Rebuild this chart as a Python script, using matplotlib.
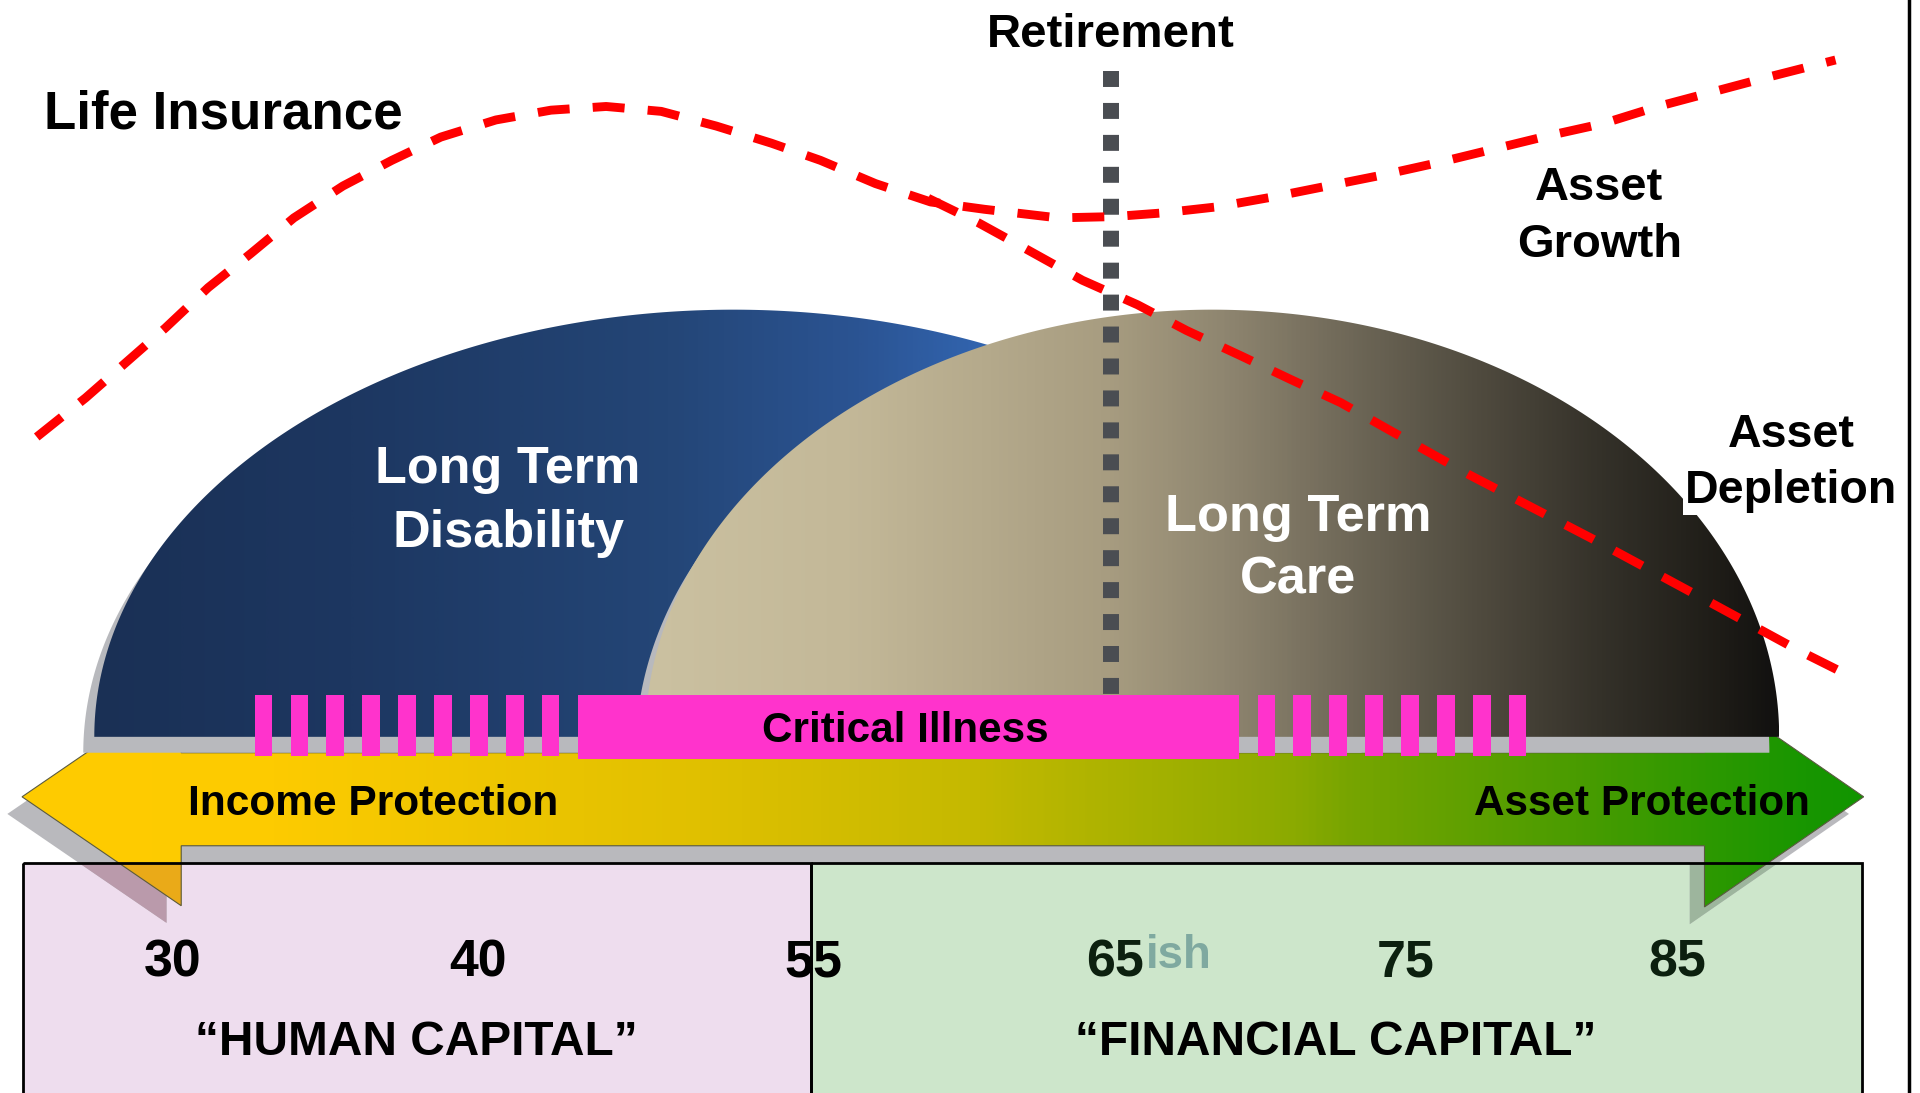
import numpy as np
import matplotlib
matplotlib.use("Agg")
import matplotlib.pyplot as plt
from matplotlib.patches import Polygon, Rectangle
from matplotlib.colors import LinearSegmentedColormap

# ---- data (picture pixels of a 1568 x 893 view) ----
age_labels = ["30", "40", "55", "65", "75", "85"]
capital_labels = ["\u201cHUMAN CAPITAL\u201d", "\u201cFINANCIAL CAPITAL\u201d"]

# life insurance need, running on into the asset growth curve
growth_x = [30, 70, 135, 170, 205, 240, 280, 320, 360, 405, 450, 495, 540, 585, 630, 670, 715, 760,
            804, 864, 909, 949, 994, 1039, 1084, 1129, 1174, 1219, 1264, 1309, 1354, 1399, 1444, 1499]
growth_y = [357, 325, 268, 235, 207, 178, 152, 131, 112, 98, 90, 87, 91, 103, 117, 131, 150, 165,
            171, 178, 177, 174, 169, 161, 152, 143, 133, 122, 111, 101, 87, 75, 63, 49]
# asset depletion branch
depl_x = [758, 799, 839, 884, 929, 969, 1014, 1054, 1095, 1134, 1200, 1300, 1400, 1468, 1510]
depl_y = [162, 182, 204, 229, 249, 270, 291, 310, 329, 351, 388, 440, 494, 531, 552]

n_left_stripes = 9
n_right_stripes = 8

FONT = ["Liberation Sans", "DejaVu Sans"]
W, H = 1568, 893


def dome(cx, base, a, b):
    t = np.linspace(0, np.pi, 300)
    return np.column_stack([cx + a * np.cos(t), base - b * np.sin(t)])


def grad_fill(ax, verts, stops, z):
    patch = Polygon(verts, closed=True, facecolor="none", edgecolor="none", zorder=z)
    ax.add_patch(patch)
    x0, x1 = verts[:, 0].min(), verts[:, 0].max()
    y0, y1 = verts[:, 1].min(), verts[:, 1].max()
    cmap = LinearSegmentedColormap.from_list("g", stops)
    img = np.linspace(0, 1, 800).reshape(1, -1)
    im = ax.imshow(img, cmap=cmap, extent=(x0, x1, y1, y0), aspect="auto",
                   zorder=z, interpolation="bilinear")
    im.set_clip_path(patch)


fig = plt.figure(figsize=(19.2, 10.93), dpi=100)
ax = fig.add_axes([0, 0, 1, 1])
ax.axis("off")

# bottom boxes
left_box = Rectangle((19, 705), 643, 200, facecolor="#EEDDEE", edgecolor="none", zorder=1)
right_box = Rectangle((662, 705), 859, 200, facecolor="#CDE6CB", edgecolor="none", zorder=1)
ax.add_patch(left_box)
ax.add_patch(right_box)
ax.add_patch(Rectangle((19, 705), 643, 200, facecolor="none", edgecolor="black", lw=2, zorder=3.6))
ax.add_patch(Rectangle((662, 705), 859, 200, facecolor="none", edgecolor="black", lw=2, zorder=3.6))
ax.plot([1559, 1559], [0, H], color="black", lw=2.5, zorder=1)

# big double arrow with its drop shadow
arrow = np.array([[18, 651], [148, 562], [148, 615], [1392, 615], [1392, 561],
                  [1522, 651], [1392, 741], [1392, 691], [148, 691], [148, 740]])
shadow = arrow + np.array([-12, 14])
ax.add_patch(Polygon(shadow, closed=True, facecolor="#B9B9BD", edgecolor="none", zorder=2))
for box, col in [(left_box, "#BA9AAB"), (right_box, "#9DB59D")]:
    p = Polygon(shadow, closed=True, facecolor=col, edgecolor="none", zorder=2.5)
    ax.add_patch(p)
    p.set_clip_path(box)
grad_fill(ax, arrow, [(0, "#FFCC00"), (0.134, "#FDCB00"), (0.368, "#E0C000"), (0.52, "#C4B900"),
                      (0.694, "#8AAA00"), (0.72, "#78A500"), (0.845, "#4A9C00"),
                      (0.97, "#189600"), (1, "#129500")], 3)
p = Polygon(arrow, closed=True, facecolor="#EAAA18", edgecolor="none", zorder=3.4)
ax.add_patch(p)
p.set_clip_path(left_box)
ax.add_patch(Polygon(arrow, closed=True, facecolor="none", edgecolor="#5a5a40", lw=0.8, zorder=3.5))

# domes with grey offset rims
blue = dome(599, 602, 522, 349)
tan = dome(990, 602, 463, 349)
ax.add_patch(Polygon(blue + np.array([-9, 13]), closed=True, facecolor="#B8B9BD", edgecolor="none", zorder=4))
grad_fill(ax, blue, [(0, "#1A3055"), (0.2, "#1D3761"), (0.45, "#244677"), (0.6, "#2B5493"),
                     (0.7, "#3265B0"), (1, "#3A70C0")], 5)
ax.add_patch(Polygon(tan + np.array([-8, 13]), closed=True, facecolor="#B8B9BD", edgecolor="none", zorder=6))
grad_fill(ax, tan, [(0, "#CBC1A1"), (0.18, "#C3B898"), (0.41, "#A79C80"), (0.51, "#8F8670"),
                    (0.62, "#6F6858"), (0.73, "#514C40"), (0.84, "#35322A"), (0.95, "#1E1C17"),
                    (1, "#121110")], 7)

# retirement marker
ax.plot([907, 907], [58, 567], color="#4A4D52", lw=11.5, dashes=(1.0, 1.0),
        dash_capstyle="butt", zorder=8)

# critical illness
for i in range(n_left_stripes):
    ax.add_patch(Rectangle((208 + i * 29.3, 568), 14.5, 50, facecolor="#FF33CC", edgecolor="none", zorder=9))
for i in range(n_right_stripes):
    ax.add_patch(Rectangle((1027 + i * 29.3, 568), 14.5, 50, facecolor="#FF33CC", edgecolor="none", zorder=9))
ax.add_patch(Rectangle((472, 568), 540, 52, facecolor="#FF33CC", edgecolor="none", zorder=9))

# red dashed curves
ax.plot(growth_x, growth_y, color="#FF0000", lw=6.4, dashes=(3.6, 2.6), dash_capstyle="butt", zorder=10)
ax.plot(depl_x, depl_y, color="#FF0000", lw=6.4, dashes=(3.6, 2.6), dash_capstyle="butt", zorder=10)

# texts: each one is scaled so its width matches the reference
renderer = fig.canvas.get_renderer()
k = 1920 / W


def label(x, base, s, width, color="black", ha="center", size=None, **kw):
    t = ax.text(x, base, s, fontsize=30, color=color, family=FONT, weight="bold",
                ha=ha, va="baseline", zorder=11, **kw)
    if size is None:
        size = 30 * width * k / t.get_window_extent(renderer).width
    t.set_fontsize(size)
    return size


label(907, 38, "Retirement", 202)
label(182, 105, "Life Insurance", 293)
s = label(1306, 163, "Asset", 105)
label(1306, 210, "Growth", 134, size=s)
s = label(1463, 411, "Depletion", 173,
          bbox=dict(boxstyle="square,pad=0.05", facecolor="white", edgecolor="none"))
label(1463, 365, "Asset", 104, size=s)
s = label(415, 395, "Long Term", 217, color="white")
label(415, 447, "Disability", 191, color="white", size=s)
s = label(1060, 434, "Long Term", 218, color="white")
label(1060, 485, "Care", 94, color="white", size=s)
label(739, 606, "Critical Illness", 234)
label(305, 666, "Income Protection", 303)
label(1341, 666, "Asset Protection", 274)

age_x = [141, 390, 664, 911, 1148, 1370]
age_col = ["black", "black", "black", "#0C200F", "#0C200F", "#0C200F"]
s = label(age_x[0], 798, age_labels[0], 47)
for lab, x, c in zip(age_labels[1:], age_x[1:], age_col[1:]):
    label(x, 798, lab, 0, color=c, size=s)
label(936, 791, "ish", 54, color="#7FA9A0", ha="left")
s = label(340, 862, capital_labels[0], 360)
label(1091, 862, capital_labels[1], 427, size=s)

ax.set_xlim(0, W)
ax.set_ylim(H, 0)
fig.savefig("out.png", dpi=100)
